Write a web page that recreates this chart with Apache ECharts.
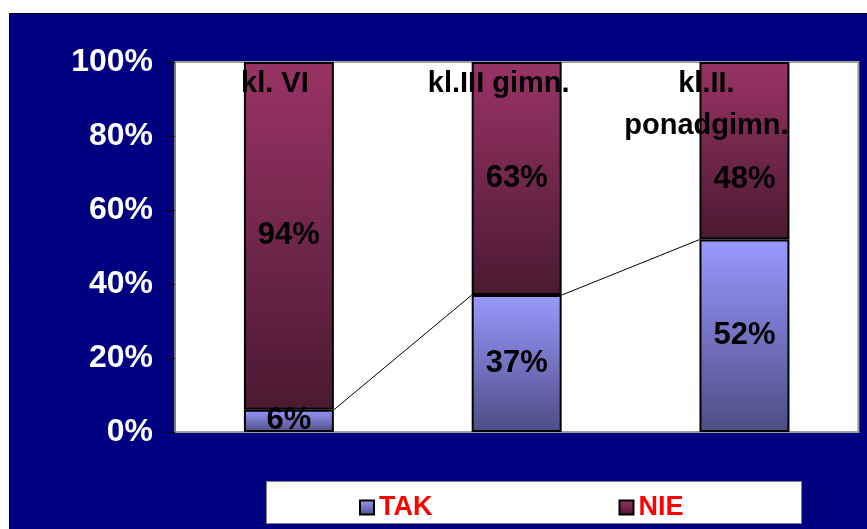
<!DOCTYPE html>
<html style="height: 100%">
<head>
    <meta charset="utf-8">
</head>
<body style="height: 100%; margin: 0">
<div id="container" style="width: 867px; height: 529px"></div>
<script src="https://cdn.jsdelivr.net/npm/echarts@6/dist/echarts.min.js"></script>
<script type="text/javascript">
    // dane z wykresu
    var categories = ['kl. VI', 'kl.III gimn.', 'kl.II.\nponadgimn.'];
    var tak = [6, 37, 52];
    var nie = [94, 63, 48];
    var yTicks = [0, 20, 40, 60, 80, 100];

    var dom = document.getElementById("container");
    var myChart = echarts.init(dom);

    var FONT = 'Liberation Sans, Arial, sans-serif';

    function grad(top, bottom) {
        return new echarts.graphic.LinearGradient(0, 0, 0, 1, [
            {offset: 0, color: top},
            {offset: 1, color: bottom}
        ]);
    }

    // przesuniecie etykiet kategorii w lewo (jak w oryginale)
    var catShift = [28, 36, 76];
    // etykieta 48% zsunieta w dol, zeby nie nachodzila na nazwe kategorii
    var nieLabelShift = [0, 0, 29];

    var option = {
        backgroundColor: '#ffffff',
        animation: false,
        graphic: [
            {
                type: 'rect', z: -10,
                shape: {x: 9.5, y: 13.5, width: 870, height: 530},
                style: {fill: '#000080', stroke: '#000000', lineWidth: 1}
            },
            {
                type: 'rect', z: -5,
                shape: {x: 266.5, y: 481.5, width: 535, height: 42},
                style: {fill: '#ffffff', stroke: '#808080', lineWidth: 1}
            }
        ],
        grid: {
            left: 175, right: 5, top: 62, bottom: 97,
            show: true,
            backgroundColor: '#ffffff',
            borderColor: '#a0a0a0',
            borderWidth: 2
        },
        legend: {
            left: 354, top: 489,
            itemWidth: 14, itemHeight: 14,
            itemGap: 186,
            icon: 'rect',
            textStyle: {color: '#ff0000', fontFamily: FONT, fontWeight: 'bold', fontSize: 27},
            data: ['TAK', 'NIE']
        },
        xAxis: {
            type: 'category',
            position: 'top',
            data: categories,
            axisLine: {show: false},
            axisTick: {show: false},
            axisLabel: {
                inside: true,
                margin: 1,
                verticalAlign: 'top',
                formatter: function (v, i) {
                    return v.split('\n').map(function (s) {
                        return '{c' + i + '|' + s + '}';
                    }).join('\n');
                },
                rich: {
                    c0: {color: '#000', fontFamily: FONT, fontWeight: 'bold', fontSize: 29, lineHeight: 42, padding: [0, catShift[0], 0, 0]},
                    c1: {color: '#000', fontFamily: FONT, fontWeight: 'bold', fontSize: 29, lineHeight: 42, padding: [0, catShift[1], 0, 0]},
                    c2: {color: '#000', fontFamily: FONT, fontWeight: 'bold', fontSize: 29, lineHeight: 42, padding: [0, catShift[2], 0, 0]}
                }
            },
            z: 10
        },
        yAxis: {
            type: 'value',
            min: yTicks[0],
            max: yTicks[yTicks.length - 1],
            interval: 20,
            splitLine: {show: false},
            axisLine: {show: true, lineStyle: {color: '#808080', width: 2}},
            axisTick: {show: true, length: 9, lineStyle: {color: '#000', width: 1}},
            axisLabel: {
                color: '#ffffff',
                fontFamily: FONT,
                fontWeight: 'bold',
                fontSize: 32,
                margin: 22,
                formatter: '{value}%'
            }
        },
        series: [
            {
                name: 'TAK',
                type: 'bar',
                stack: 'a',
                barWidth: '39.5%',
                data: tak,
                itemStyle: {color: grad('#9999ff', '#4d4d85'), borderColor: '#000', borderWidth: 2},
                label: {
                    show: true, position: 'inside', color: '#000',
                    fontFamily: FONT, fontWeight: 'bold', fontSize: 31,
                    formatter: '{c}%'
                }
            },
            {
                name: 'NIE',
                type: 'bar',
                stack: 'a',
                barWidth: '39.5%',
                data: nie.map(function (v, i) {
                    return {value: v, label: {offset: [0, nieLabelShift[i]]}};
                }),
                itemStyle: {color: grad('#993366', '#4a1a30'), borderColor: '#000', borderWidth: 2},
                label: {
                    show: true, position: 'inside', color: '#000',
                    fontFamily: FONT, fontWeight: 'bold', fontSize: 31,
                    formatter: '{c}%'
                }
            },
            {
                // linie serii laczace wierzcholki slupkow TAK
                name: 'linie',
                type: 'custom',
                silent: true,
                z: 5,
                data: tak.map(function (v, i) { return [i, v]; }),
                renderItem: function (params, api) {
                    var i = api.value(0);
                    if (i === 0) return;
                    var half = api.size([1, 0])[0] * 0.395 / 2;
                    var p0 = api.coord([i - 1, tak[i - 1]]);
                    var p1 = api.coord([i, tak[i]]);
                    return {
                        type: 'line',
                        shape: {x1: p0[0] + half, y1: p0[1], x2: p1[0] - half, y2: p1[1]},
                        style: {stroke: '#000', lineWidth: 1}
                    };
                }
            }
        ]
    };
    myChart.setOption(option, true);
</script>
</body>
</html>
